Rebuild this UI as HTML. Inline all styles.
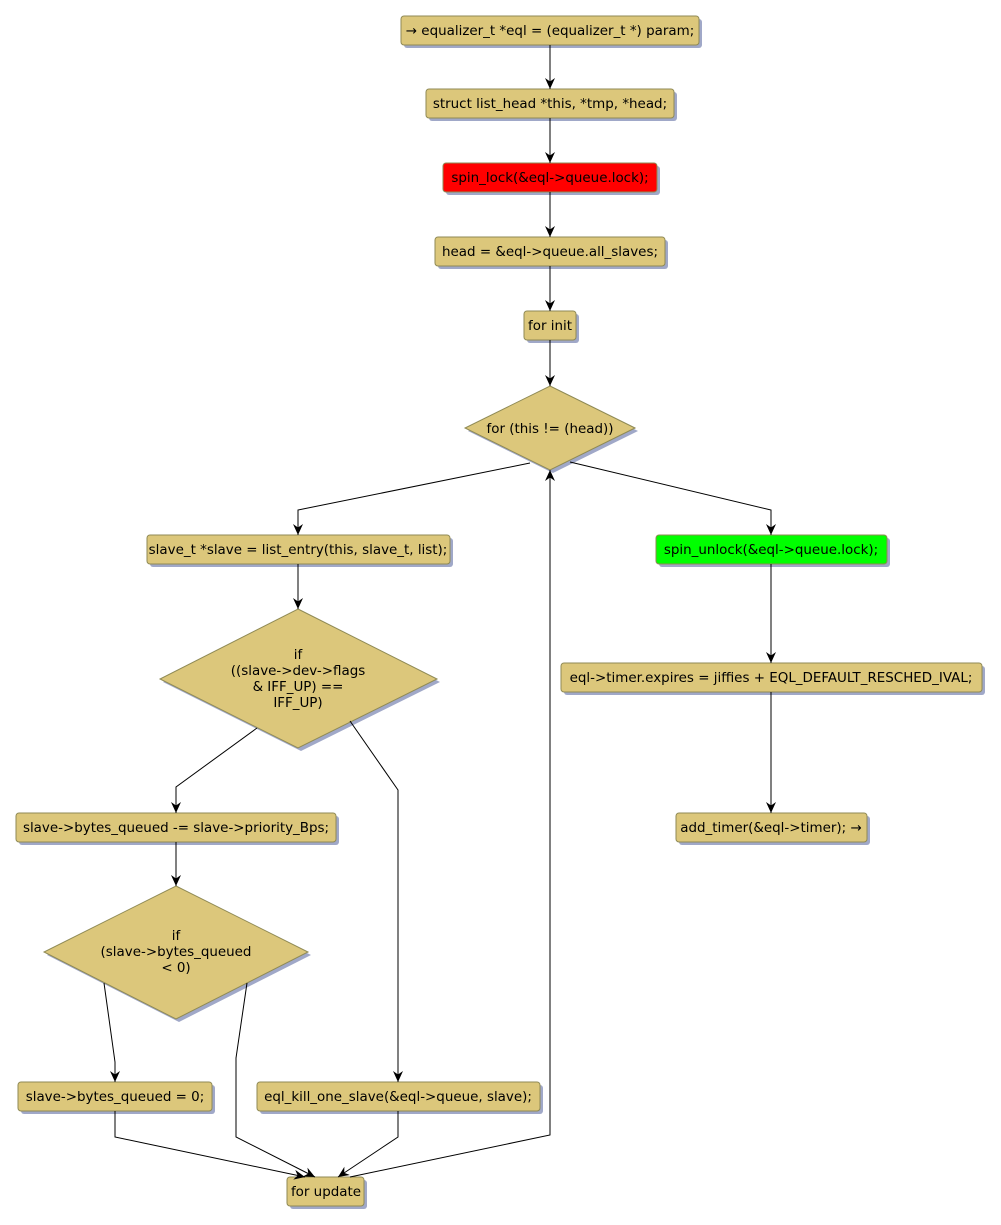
<!DOCTYPE html>
<html><head><style>body{margin:0;background:#fff}svg{display:block}text{font-family:"DejaVu Sans","Liberation Sans",sans-serif;font-size:13.45px;fill:#000}</style></head><body>
<svg width="1001" height="1225" viewBox="0 0 1001 1225" xmlns="http://www.w3.org/2000/svg">
<defs>
<marker id="a" markerWidth="12" markerHeight="12" refX="11" refY="6" orient="auto" markerUnits="userSpaceOnUse"><path d="M0,1 L11,6 L0,11 L3.5,6 Z" fill="#000"/></marker>
</defs>
<g fill="#a0a8c8">
<rect x="404" y="19" width="298" height="29" rx="3"/>
<rect x="429" y="92" width="248" height="29" rx="3"/>
<rect x="446" y="166" width="214" height="29" rx="3"/>
<rect x="438" y="240" width="230" height="29" rx="3"/>
<rect x="527" y="314" width="52" height="29" rx="3"/>
<polygon points="553,389 638,431 553,473 468,431"/>
<rect x="150" y="538" width="303" height="29" rx="3"/>
<polygon points="301,612 440,682 301,751 163,682"/>
<rect x="19" y="816" width="320" height="29" rx="3"/>
<polygon points="179,889 311,955 179,1022 47,955"/>
<rect x="21" y="1085" width="194" height="29" rx="3"/>
<rect x="260" y="1085" width="283" height="29" rx="3"/>
<rect x="290" y="1180" width="77" height="29" rx="3"/>
<rect x="659" y="538" width="231" height="29" rx="3"/>
<rect x="564" y="666" width="421" height="29" rx="3"/>
<rect x="679" y="816" width="191" height="29" rx="3"/>
</g>
<g stroke="#8f8a55" stroke-width="1">
<rect x="401" y="16" width="298" height="29" rx="3" fill="#dcc77b"/>
<rect x="426" y="89" width="248" height="29" rx="3" fill="#dcc77b"/>
<rect x="443" y="163" width="214" height="29" rx="3" fill="#ff0000"/>
<rect x="435" y="237" width="230" height="29" rx="3" fill="#dcc77b"/>
<rect x="524" y="311" width="52" height="29" rx="3" fill="#dcc77b"/>
<polygon points="550,386 635,428 550,470 465,428" fill="#dcc77b"/>
<rect x="147" y="535" width="303" height="29" rx="3" fill="#dcc77b"/>
<polygon points="298,609 437,679 298,748 160,679" fill="#dcc77b"/>
<rect x="16" y="813" width="320" height="29" rx="3" fill="#dcc77b"/>
<polygon points="176,886 308,952 176,1019 44,952" fill="#dcc77b"/>
<rect x="18" y="1082" width="194" height="29" rx="3" fill="#dcc77b"/>
<rect x="257" y="1082" width="283" height="29" rx="3" fill="#dcc77b"/>
<rect x="287" y="1177" width="77" height="29" rx="3" fill="#dcc77b"/>
<rect x="656" y="535" width="231" height="29" rx="3" fill="#00ff00"/>
<rect x="561" y="663" width="421" height="29" rx="3" fill="#dcc77b"/>
<rect x="676" y="813" width="191" height="29" rx="3" fill="#dcc77b"/>
</g>
<g stroke="#000" stroke-width="1" fill="none" marker-end="url(#a)">
<path d="M550,45 V89"/>
<path d="M550,118 V163"/>
<path d="M550,192 V237"/>
<path d="M550,266 V311"/>
<path d="M550,340 V386"/>
<path d="M530,463 L298,510 V535"/>
<path d="M570,462 L771,510 V535"/>
<path d="M298,564 V609"/>
<path d="M771,564 V663"/>
<path d="M771,692 V813"/>
<path d="M257,728 L176,787 V813"/>
<path d="M350,721 L398,790 V1082"/>
<path d="M176,842 V886"/>
<path d="M104,983 L115,1062 V1082"/>
<path d="M247,983 L236,1058 V1137 L315,1177"/>
<path d="M115,1111 V1137 L305,1177"/>
<path d="M398,1111 V1137 L338,1177"/>
<path d="M350,1177 L550,1135 V470"/>
</g>
<g text-anchor="middle">
<text x="550" y="35">→ equalizer_t *eql = (equalizer_t *) param;</text>
<text x="550" y="108">struct list_head *this, *tmp, *head;</text>
<text x="550" y="182">spin_lock(&amp;eql-&gt;queue.lock);</text>
<text x="550" y="256">head = &amp;eql-&gt;queue.all_slaves;</text>
<text x="550" y="330">for init</text>
<text x="550" y="433">for (this != (head))</text>
<text x="298" y="554">slave_t *slave = list_entry(this, slave_t, list);</text>
<text x="298" y="659">if</text>
<text x="298" y="675">((slave-&gt;dev-&gt;flags</text>
<text x="298" y="691">&amp; IFF_UP) ==</text>
<text x="298" y="707">IFF_UP)</text>
<text x="176" y="832">slave-&gt;bytes_queued -= slave-&gt;priority_Bps;</text>
<text x="176" y="940">if</text>
<text x="176" y="956">(slave-&gt;bytes_queued</text>
<text x="176" y="972">&lt; 0)</text>
<text x="115" y="1101">slave-&gt;bytes_queued = 0;</text>
<text x="398" y="1101">eql_kill_one_slave(&amp;eql-&gt;queue, slave);</text>
<text x="326" y="1196">for update</text>
<text x="771" y="554">spin_unlock(&amp;eql-&gt;queue.lock);</text>
<text x="771" y="682">eql-&gt;timer.expires = jiffies + EQL_DEFAULT_RESCHED_IVAL;</text>
<text x="771" y="832">add_timer(&amp;eql-&gt;timer); →</text>
</g>
</svg>
</body></html>
